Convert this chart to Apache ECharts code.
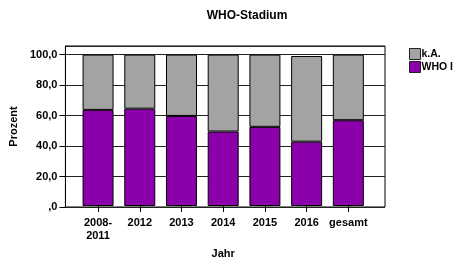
<!DOCTYPE html>
<html><head><meta charset="utf-8">
<script src="https://cdn.jsdelivr.net/npm/echarts@6/dist/echarts.min.js"></script>
<style>html,body{margin:0;padding:0;background:#fff}#c{width:456px;height:264px}</style>
</head><body><div id="c"></div>
<script>
const categories = ['2008-\n2011', '2012', '2013', '2014', '2015', '2016', 'gesamt'];
const whoI = [63.5, 64.3, 59.5, 49.2, 52.3, 42.5, 56.7];
const kA = [36.5, 35.7, 40.5, 50.8, 47.7, 56.6, 43.3];
const yTicks = [0, 20, 40, 60, 80, 100];
const fmt = v => v === 0 ? ',0' : v.toFixed(1).replace('.', ',');
const font = '"Liberation Sans", Arial, sans-serif';
const chart = echarts.init(document.getElementById('c'));
chart.setOption({
  animation: false,
  title: { text: 'WHO-Stadium', left: 242, top: 5, textAlign: 'center',
    textStyle: { fontFamily: font, fontSize: 12, fontWeight: 'bold', color: '#000' } },
  legend: { orient: 'vertical', left: 409, top: 48, width: 47, itemWidth: 11, itemHeight: 11, itemGap: 1,
    icon: 'rect', data: ['k.A.', 'WHO I'], padding: 0,
    itemStyle: { borderWidth: 1, borderColor: '#222' },
    textStyle: { fontFamily: font, fontSize: 10.5, fontWeight: 'bold', color: '#000', overflow: 'none', padding: [0, 0, 0, -4] } },
  grid: [
    { left: 62, right: 71, top: 46, bottom: 57, show: true, borderColor: '#000', borderWidth: 1, backgroundColor: '#fff' },
    { left: 77.2, right: 86.8, top: 46, bottom: 57 }
  ],
  xAxis: [
    { gridIndex: 0, type: 'value', min: 0, max: 1, show: false },
    { gridIndex: 1, type: 'category', data: categories,
      name: 'Jahr', nameLocation: 'middle', nameGap: 42,
      nameTextStyle: { fontFamily: font, fontSize: 11, fontWeight: 'bold', color: '#000' },
      axisLine: { show: false },
      axisTick: { show: true, alignWithLabel: true, length: 6, lineStyle: { color: '#000' } },
      axisLabel: { fontFamily: font, fontSize: 11, fontWeight: 'bold', color: '#000', margin: 10, lineHeight: 13, interval: 0 } }
  ],
  yAxis: [
    { gridIndex: 0, type: 'value', min: 0, max: 105.7, interval: 20,
      name: 'Prozent', nameLocation: 'middle', nameGap: 40,
      nameTextStyle: { fontFamily: font, fontSize: 11, fontWeight: 'bold', color: '#000' },
      axisLine: { show: true, lineStyle: { color: '#000' } },
      axisTick: { show: true, length: 6, lineStyle: { color: '#000' } },
      splitLine: { show: true, lineStyle: { color: '#222', width: 1 } },
      axisLabel: { fontFamily: font, fontSize: 11, fontWeight: 'bold', color: '#000', margin: 8,
        showMaxLabel: false, formatter: v => yTicks.includes(v) ? fmt(v) : '' } },
    { gridIndex: 1, type: 'value', min: 0, max: 105.7, show: false }
  ],
  series: [
    { name: 'WHO I', type: 'bar', stack: 's', xAxisIndex: 1, yAxisIndex: 1, data: whoI, barWidth: 31,
      itemStyle: { color: '#8c00ab', borderColor: '#000', borderWidth: 1 } },
    { name: 'k.A.', type: 'bar', stack: 's', xAxisIndex: 1, yAxisIndex: 1, data: kA, barWidth: 31,
      itemStyle: { color: '#a3a3a3', borderColor: '#000', borderWidth: 1 } }
  ]
});
</script></body></html>
